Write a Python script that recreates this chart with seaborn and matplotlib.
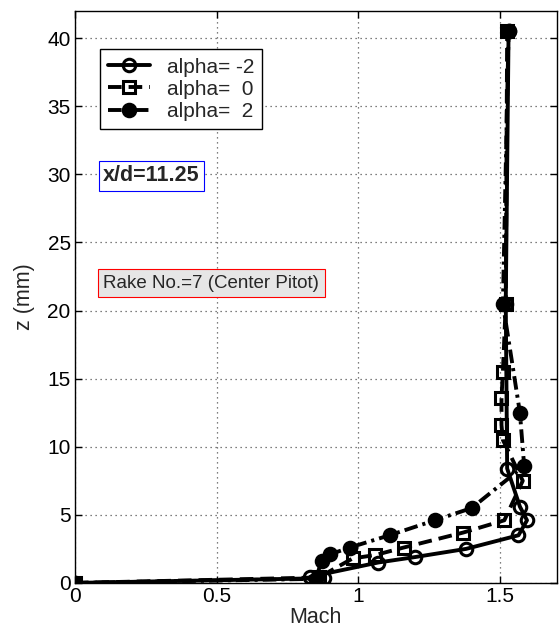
import pandas as pd
import matplotlib
matplotlib.use('Agg')
import matplotlib.pyplot as plt
import seaborn as sns

# alpha = -2 (open circles, solid)
mach_m2 = [0, 0.88, 0.83, 1.07, 1.20, 1.38, 1.565, 1.595, 1.57, 1.525, 1.52, 1.53]
z_m2 = [0, 0.35, 0.45, 1.5, 1.9, 2.5, 3.5, 4.6, 5.6, 8.4, 20.5, 40.5]

# alpha = 0 (open squares, dashed)
mach_0 = [0, 0.86, 0.98, 1.06, 1.16, 1.37, 1.515, 1.58, 1.51, 1.505, 1.505, 1.51, 1.52, 1.525]
z_0 = [0, 0.4, 1.8, 2.05, 2.6, 3.7, 4.6, 7.5, 10.5, 11.6, 13.6, 15.5, 20.5, 40.5]

# alpha = 2 (filled circles, dash-dot)
mach_p2 = [0, 0.85, 0.87, 0.90, 0.97, 1.11, 1.27, 1.40, 1.585, 1.57, 1.51, 1.53]
z_p2 = [0, 0.3, 1.6, 2.1, 2.6, 3.5, 4.6, 5.5, 8.6, 12.5, 20.5, 40.5]

x_ticks = [0, 0.5, 1, 1.5]
x_labels = ['0', '0.5', '1', '1.5']
y_ticks = [0, 5, 10, 15, 20, 25, 30, 35, 40]

sns.set_style('ticks')
plt.rcParams['font.family'] = ['Liberation Sans', 'DejaVu Sans']
plt.rcParams['xtick.direction'] = 'in'
plt.rcParams['ytick.direction'] = 'in'

fig = plt.figure(figsize=(5.59, 6.42), dpi=100)
ax = fig.add_axes([0.134, 0.092, 0.862, 0.891])

series = [
    ('alpha= -2', mach_m2, z_m2, '-', 'o', 'none'),
    ('alpha=  0', mach_0, z_0, (0, (3.5, 1.8)), 's', 'none'),
    ('alpha=  2', mach_p2, z_p2, (0, (3.5, 1.3, 0.8, 1.3)), 'o', 'black'),
]
for label, m, z, ls, mk, fc in series:
    df = pd.DataFrame({'Mach': m, 'z': z})
    sns.lineplot(data=df, x='Mach', y='z', ax=ax, sort=False, estimator=None,
                 color='black', linewidth=2.8, linestyle=ls, marker=mk,
                 markersize=9, markerfacecolor=fc, markeredgecolor='black',
                 markeredgewidth=2.2, label=label)

ax.set_xlim(0, 1.7)
ax.set_ylim(0, 42)
ax.set_xticks(x_ticks)
ax.set_xticklabels(x_labels)
ax.set_yticks(y_ticks)
ax.tick_params(labelsize=15, length=5, width=1, pad=3, top=True, right=True, colors='black')
ax.grid(True, linestyle=(0, (1, 3)), color='#555555', linewidth=0.9)
for sp in ax.spines.values():
    sp.set_visible(True)
    sp.set_linewidth(1)
    sp.set_color('black')

ax.set_xlabel('Mach', fontsize=15.5, labelpad=1)
ax.set_ylabel('z (mm)', fontsize=15.5, labelpad=9)

leg = ax.legend(loc='upper left', bbox_to_anchor=(0.052, 0.933), fontsize=15,
                handlelength=2.0, labelspacing=0.15, borderpad=0.4,
                handletextpad=0.8, borderaxespad=0, fancybox=False,
                framealpha=1, edgecolor='black')
leg.get_frame().set_linewidth(1)

ax.text(0.1, 29.9, 'x/d=11.25', fontsize=15.5, fontweight='bold', ha='left', va='center',
        bbox=dict(boxstyle='square,pad=0.2', facecolor='white', edgecolor='blue', linewidth=0.8))
ax.text(0.1, 22.0, 'Rake No.=7 (Center Pitot)', fontsize=13.5, ha='left', va='center',
        bbox=dict(boxstyle='square,pad=0.3', facecolor='#e6e6e6', edgecolor='red', linewidth=0.8))

fig.savefig('out.png', dpi=100)
